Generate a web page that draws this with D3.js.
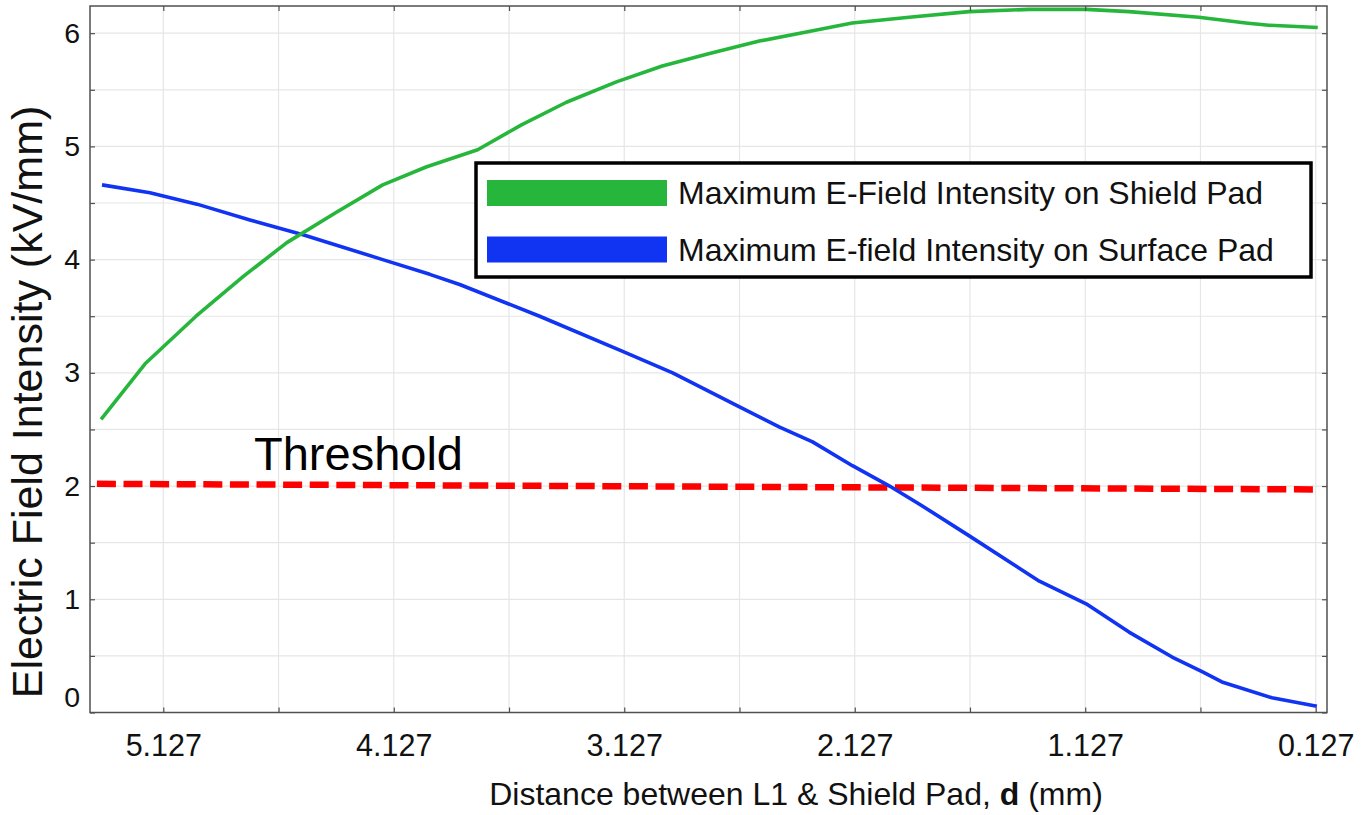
<!DOCTYPE html>
<html>
<head>
<meta charset="utf-8">
<script src="https://cdn.jsdelivr.net/npm/d3@7"></script>
<style>
  html, body { margin: 0; padding: 0; background: #ffffff; }
  svg { display: block; font-family: "Liberation Sans", Arial, sans-serif; }
</style>
</head>
<body>
<svg id="chart" width="1362" height="815"></svg>
<script>
// Distance d (mm) and peak field values (kV/mm) for the shield pad
const shieldD = [5.397, 5.206, 4.985, 4.781, 4.591, 4.374, 4.175, 3.984, 3.763, 3.573,
                 3.378, 3.161, 2.962, 2.757, 2.541, 2.337, 2.138, 1.891, 1.631, 1.370,
                 1.123, 0.937, 0.634, 0.430, 0.331, 0.118];
const shieldE = [2.59, 3.08, 3.50, 3.85, 4.15, 4.42, 4.66, 4.82, 4.97, 5.19,
                 5.39, 5.57, 5.71, 5.82, 5.93, 6.01, 6.09, 6.14, 6.19, 6.21,
                 6.21, 6.19, 6.14, 6.09, 6.07, 6.05];

// Distance d (mm) and peak field values (kV/mm) for the surface pad
const surfaceD = [5.393, 5.185, 4.981, 4.751, 4.521, 4.175, 3.971, 3.841, 3.494, 3.134,
                  2.917, 2.627, 2.453, 2.310, 2.137, 1.976, 1.846, 1.630, 1.326, 1.123,
                  0.937, 0.750, 0.620, 0.534, 0.317, 0.122];
const surfaceE = [4.66, 4.59, 4.49, 4.35, 4.22, 4.00, 3.87, 3.78, 3.50, 3.19,
                  3.00, 2.70, 2.52, 2.39, 2.18, 2.00, 1.84, 1.56, 1.16, 0.96,
                  0.71, 0.49, 0.36, 0.27, 0.13, 0.055];

// Threshold level across the swept range
const thresholdD = [5.415, 0.127];
const thresholdE = [2.02, 1.97];

// Axis ticks
const xMajorTicks = [5.127, 4.127, 3.127, 2.127, 1.127, 0.127];
const xMajorLabels = ["5.127", "4.127", "3.127", "2.127", "1.127", "0.127"];
const xMinorTicks = [4.627, 3.627, 2.627, 1.627, 0.627];
const yMajorTicks = [0, 1, 2, 3, 4, 5, 6];
const yMajorLabels = ["0", "1", "2", "3", "4", "5", "6"];
const yMinorTicks = [0.5, 1.5, 2.5, 3.5, 4.5, 5.5];

const seriesNames = ["Maximum E-Field Intensity on Shield Pad",
                     "Maximum E-field Intensity on Surface Pad"];
const seriesColors = ["#27b63c", "#1034f2"];

const svg = d3.select("#chart");
const L = 90, R = 1327, T = 6, B = 712.5;

const x = d3.scaleLinear().domain([5.445, 0.078]).range([L, R]);
const y = d3.scaleLinear().domain([0, 6.24]).range([B, T]);

const allX = xMajorTicks.concat(xMinorTicks).sort((a, b) => b - a);
const allY = yMajorTicks.concat(yMinorTicks).sort((a, b) => a - b);

// grid
const grid = svg.append("g");
grid.selectAll("line.gx").data(allX).enter().append("line")
  .attr("x1", d => x(d)).attr("x2", d => x(d))
  .attr("y1", T).attr("y2", B)
  .attr("stroke", "#e6e6e6").attr("stroke-width", 1.2);
grid.selectAll("line.gy").data(allY.filter(v => v > 0)).enter().append("line")
  .attr("x1", L).attr("x2", R)
  .attr("y1", d => y(d)).attr("y2", d => y(d))
  .attr("stroke", "#e6e6e6").attr("stroke-width", 1.2);

// series lines
const line = d3.line().x(d => x(d[0])).y(d => y(d[1]));
svg.append("path")
  .datum(thresholdD.map((d, i) => [d, thresholdE[i]]))
  .attr("d", line).attr("fill", "none")
  .attr("stroke", "#ff0000").attr("stroke-width", 6.5)
  .attr("stroke-dasharray", "19 7.6");

svg.append("path")
  .datum(surfaceD.map((d, i) => [d, surfaceE[i]]))
  .attr("d", line).attr("fill", "none")
  .attr("stroke", seriesColors[1]).attr("stroke-width", 3.6)
  .attr("stroke-linejoin", "round");

svg.append("path")
  .datum(shieldD.map((d, i) => [d, shieldE[i]]))
  .attr("d", line).attr("fill", "none")
  .attr("stroke", seriesColors[0]).attr("stroke-width", 3.6)
  .attr("stroke-linejoin", "round");

// axes (box with inward ticks)
const axisColor = "#505050";
function styleAxis(g) {
  g.select(".domain").remove();
  g.selectAll(".tick line").attr("stroke", axisColor).attr("stroke-width", 1.2);
}
const xb = svg.append("g").attr("transform", `translate(0,${B})`)
  .call(d3.axisBottom(x).tickValues(allX).tickSizeInner(-5).tickSizeOuter(0)
    .tickPadding(22)
    .tickFormat(d => { const i = xMajorTicks.indexOf(d); return i >= 0 ? xMajorLabels[i] : ""; }));
styleAxis(xb);
xb.selectAll(".tick text").attr("font-size", 30.5).attr("fill", "#111")
  .attr("font-family", "Liberation Sans, Arial, sans-serif");

const xt = svg.append("g").attr("transform", `translate(0,${T})`)
  .call(d3.axisTop(x).tickValues(allX).tickSizeInner(-5).tickSizeOuter(0).tickFormat(""));
styleAxis(xt);

const yl = svg.append("g").attr("transform", `translate(${L},0)`)
  .call(d3.axisLeft(y).tickValues(allY).tickSizeInner(-5).tickSizeOuter(0)
    .tickPadding(10)
    .tickFormat(d => { const i = yMajorTicks.indexOf(d); return i >= 0 ? yMajorLabels[i] : ""; }));
styleAxis(yl);
yl.selectAll(".tick text").attr("font-size", 28.5).attr("fill", "#111")
  .attr("font-family", "Liberation Sans, Arial, sans-serif")
  .attr("transform", d => d === 0 ? "translate(0,-15)" : null);

const yr = svg.append("g").attr("transform", `translate(${R},0)`)
  .call(d3.axisRight(y).tickValues(allY).tickSizeInner(-5).tickSizeOuter(0).tickFormat(""));
styleAxis(yr);

svg.append("rect").attr("x", L).attr("y", T).attr("width", R - L).attr("height", B - T)
  .attr("fill", "none").attr("stroke", axisColor).attr("stroke-width", 1.5);

// threshold annotation
svg.append("text").attr("x", 254).attr("y", 470)
  .attr("font-size", 47).attr("fill", "#000").text("Threshold");

// legend
const lg = svg.append("g");
lg.append("rect").attr("x", 476).attr("y", 163).attr("width", 835).attr("height", 114)
  .attr("fill", "#fff").attr("stroke", "#000").attr("stroke-width", 3.5);
seriesNames.forEach((name, i) => {
  const cy = 193 + i * 56.5;
  lg.append("line").attr("x1", 487).attr("x2", 667).attr("y1", cy).attr("y2", cy)
    .attr("stroke", seriesColors[i]).attr("stroke-width", 26);
  lg.append("text").attr("x", 678).attr("y", cy + 11)
    .attr("font-size", 32).attr("fill", "#111").text(name);
});

// axis titles
const xt2 = svg.append("text").attr("x", 796).attr("y", 805)
  .attr("text-anchor", "middle").attr("font-size", 32).attr("fill", "#111");
xt2.append("tspan").text("Distance between L1 & Shield Pad, ");
xt2.append("tspan").attr("font-weight", "bold").text("d");
xt2.append("tspan").text(" (mm)");

svg.append("text").attr("transform", "translate(42,402) rotate(-90)")
  .attr("text-anchor", "middle").attr("font-size", 43).attr("fill", "#111")
  .text("Electric Field Intensity (kV/mm)");
</script>
</body>
</html>
